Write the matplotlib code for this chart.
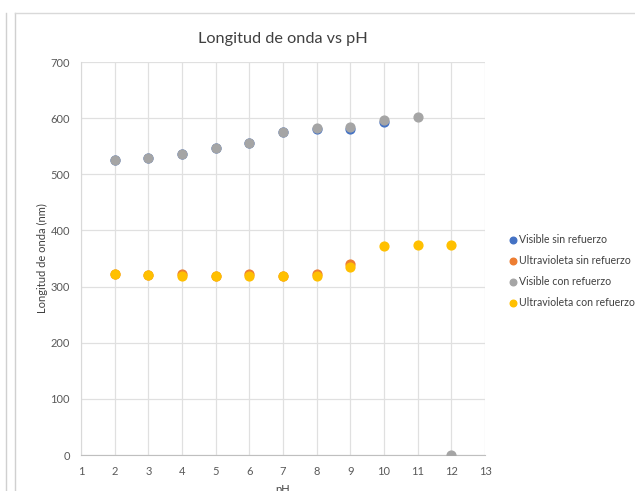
import matplotlib.pyplot as plt
from matplotlib.lines import Line2D

plt.rcParams['font.family'] = ['Lato', 'DejaVu Sans']

ph_vis = [2, 3, 4, 5, 6, 7, 8, 9, 10]
vis_sin = [525, 529, 536, 547, 555, 575, 580, 581, 594]

ph_uv = [2, 3, 4, 5, 6, 7, 8, 9]
uv_sin = [322, 321, 322, 319, 322, 319, 323, 340]

ph_vis_con = [2, 3, 4, 5, 6, 7, 8, 9, 10, 11, 12]
vis_con = [525, 529, 536, 547, 555, 575, 582, 585, 596, 602, 0]

ph_uv_con = [2, 3, 4, 5, 6, 7, 8, 9, 10, 11, 12]
uv_con = [322, 321, 319, 318, 319, 318, 319, 335, 373, 374, 374]

fig = plt.figure(figsize=(6.35, 4.91), dpi=100)
ax = fig.add_axes([0.1276, 0.0733, 0.6362, 0.8004])

ms = 40
ax.scatter(ph_vis, vis_sin, s=ms, color='#4472C4', label='Visible sin refuerzo', zorder=3)
ax.scatter(ph_uv, uv_sin, s=ms, color='#ED7D31', label='Ultravioleta sin refuerzo', zorder=3)
ax.scatter(ph_vis_con, vis_con, s=ms, color='#A5A5A5', label='Visible con refuerzo', zorder=3)
ax.scatter(ph_uv_con, uv_con, s=ms, color='#FFC000', label='Ultravioleta con refuerzo', zorder=3)

ax.set_xlim(1, 13)
ax.set_ylim(0, 700)
ax.set_xticks(range(1, 14))
ax.set_yticks(range(0, 701, 100))
ax.grid(True, color='#e0e0e0', linewidth=0.9)
ax.set_axisbelow(True)
for s in ['top', 'right']:
    ax.spines[s].set_visible(False)
ax.spines['left'].set_color('#d9d9d9')
ax.spines['bottom'].set_color('#bfbfbf')
ax.tick_params(length=0, colors='#595959', labelsize=8, pad=8)

ax.set_title('Longitud de onda vs pH', fontsize=11.7, color='#404040', pad=14)
ax.set_xlabel('pH', fontsize=8, color='#404040', labelpad=5)
ax.set_ylabel('Longitud de onda (nm)', fontsize=8, color='#404040', labelpad=2)

fig.legend(loc='center left', bbox_to_anchor=(0.79, 0.448), frameon=False,
           fontsize=7.6, handletextpad=0.0, handlelength=1.1, borderpad=0,
           markerscale=0.75, labelspacing=0.95, labelcolor='#404040')

# panel borders
fig.add_artist(Line2D([0.024, 0.024], [0, 0.973], color='#d0d0d0', lw=1))
fig.add_artist(Line2D([0.009, 0.009], [0, 0.973], color='#d0d0d0', lw=1))
fig.add_artist(Line2D([0.024, 1], [0.973, 0.973], color='#d9d9d9', lw=1))

fig.savefig('out.png', dpi=100)
